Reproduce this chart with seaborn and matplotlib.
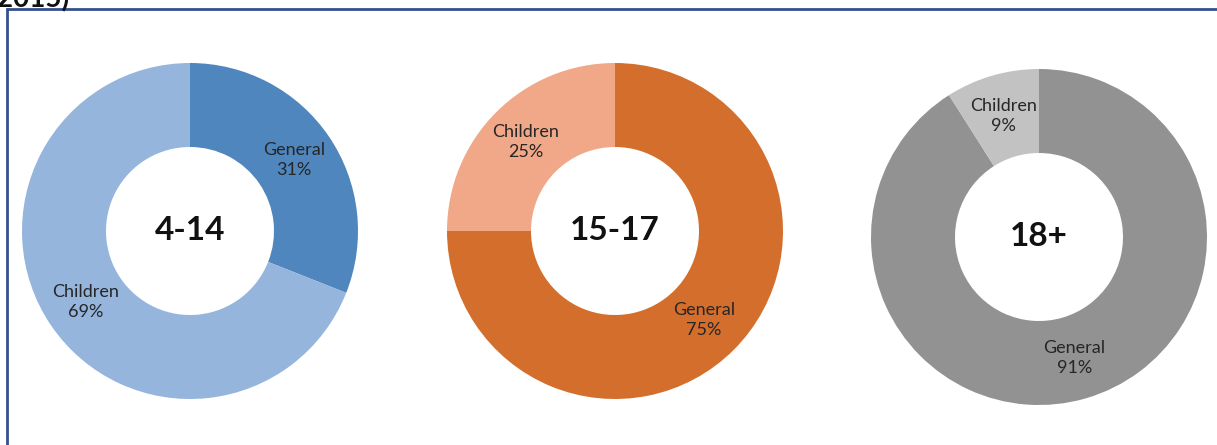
import matplotlib
matplotlib.use("Agg")
import matplotlib.pyplot as plt
from matplotlib.patches import Rectangle
import seaborn as sns

# -----------------------------
# Style Settings
sns.set_theme(style="white")
plt.rcParams['font.family'] = ['Lato', 'DejaVu Sans']

# -----------------------------
# Data
age_groups = ["4-14", "15-17", "18+"]
categories = ["General", "Children"]
general_share = [31, 75, 91]
children_share = [69, 25, 9]

general_colors = ["#4F86BE", "#D46E2C", "#929292"]
children_colors = ["#95B5DD", "#F0A888", "#C2C2C2"]

# -----------------------------
# Figure
W, H = 1217, 445
fig = plt.figure(figsize=(W / 100, H / 100), dpi=100)

centers = [(190, 231), (615, 231), (1039, 237)]
radius = 168

for i, group in enumerate(age_groups):
    cx, cy = centers[i]
    ax = fig.add_axes([(cx - radius) / W, (H - cy - radius) / H,
                       2 * radius / W, 2 * radius / H])
    values = [general_share[i], children_share[i]]
    labels = [f"{cat}\n{val}%" for cat, val in zip(categories, values)]
    wedges, texts = ax.pie(
        values,
        labels=labels,
        colors=[general_colors[i], children_colors[i]],
        startangle=90,
        counterclock=False,
        radius=1,
        labeldistance=0.75,
        wedgeprops=dict(width=0.5, edgecolor="none"),
        textprops=dict(fontsize=13, color="#262626", ha="center",
                       va="center", linespacing=1.3),
    )
    for t in texts:
        t.set_horizontalalignment("center")
        t.set_verticalalignment("center")
    ax.text(0, 0, group, ha="center", va="center", fontsize=24,
            fontweight="bold", color="#111111")
    ax.set_xlim(-1, 1)
    ax.set_ylim(-1, 1)
    ax.set_aspect("equal")
    ax.axis("off")

# Frame (right and bottom edges fall outside the image)
fig.add_artist(Rectangle((7 / W, -0.2), 1.2, (H - 9) / H + 0.2,
                         transform=fig.transFigure, fill=False,
                         edgecolor="#36508C", linewidth=2))

# Cut-off heading above the frame
fig.text(-3 / W, (H - 7) / H, "2015)", fontsize=20, fontweight="bold",
         color="#111111", ha="left", va="baseline")

plt.savefig("out.png", dpi=100)
